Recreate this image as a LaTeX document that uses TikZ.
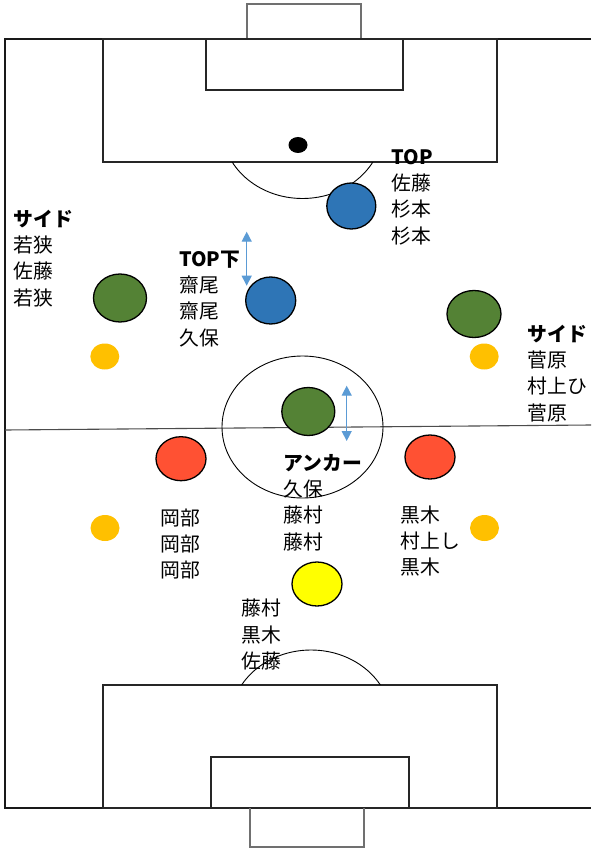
\documentclass[tikz,border=0pt]{standalone}
\usepackage{fontspec}
\setmainfont{Noto Sans CJK JP}
\usetikzlibrary{shapes.geometric,arrows.meta}
\definecolor{pblue}{HTML}{2E75B6}
\definecolor{pgreen}{HTML}{548235}
\definecolor{pred}{HTML}{FF5133}
\definecolor{porange}{HTML}{FFC000}
\definecolor{pyellow}{HTML}{FFFF00}
\definecolor{arrowblue}{HTML}{5B9BD5}
\definecolor{goalgray}{HTML}{707070}
\begin{document}
\begin{tikzpicture}[x=1pt,y=-1pt,
  fieldline/.style={draw=black!90, line width=1.6pt},
  boxline/.style={draw=black!85, line width=1.3pt},
  goalline/.style={draw=goalgray, line width=1.2pt},
  arcline/.style={draw=black, line width=0.9pt},
  midline/.style={draw=black!70, line width=1.1pt},
  player/.style={ellipse, draw=black, line width=1.3pt, inner sep=0pt},
  spare/.style={ellipse, fill=porange, inner sep=0pt, minimum width=29pt, minimum height=26pt},
  namelist/.style={anchor=north west, inner sep=0pt, align=left, font=\fontsize{19.8}{26.3}\selectfont},
  movearrow/.style={draw=arrowblue, line width=1.3pt, {Triangle[length=10pt,width=10pt]}-{Triangle[length=10pt,width=10pt]}}
]
\useasboundingbox (0,0) rectangle (591,850);
\fill[white] (0,0) rectangle (591,850);

% pitch
\draw[fieldline] (591,39) -- (5,39) -- (5,808) -- (591,808);
\draw[goalline] (247,39) -- (247,4) -- (361,4) -- (361,39);
\draw[boxline] (103,39) rectangle (497,162);
\draw[boxline] (206,39) rectangle (403,90);
\fill[black] (298,145) ellipse [x radius=9.5, y radius=8];
\begin{scope}
  \clip (0,162.6) rectangle (591,300);
  \draw[arcline] (302.5,127.5) ellipse [x radius=80.5, y radius=71];
\end{scope}
\draw[boxline] (103,685) rectangle (497,808);
\draw[boxline] (211,757) rectangle (409,808);
\draw[goalline] (250,808) -- (250,847) -- (364,847) -- (364,808);
\begin{scope}
  \clip (0,500) rectangle (591,684.4);
  \draw[arcline] (311,721) ellipse [x radius=80.5, y radius=71];
\end{scope}
\draw[midline] (5,430) -- (591,425);
\draw[arcline] (302.5,427) ellipse [x radius=80.5, y radius=71];

% players
\node[player, fill=pblue, minimum width=49pt, minimum height=46pt] (top) at (351.3,206) {};
\node[player, fill=pblue, minimum width=50pt, minimum height=47pt] (topsub) at (270.7,300.5) {};
\node[player, fill=pgreen, minimum width=53pt, minimum height=48pt] (lside) at (120,298) {};
\node[player, fill=pgreen, minimum width=54pt, minimum height=47pt] (rside) at (474,314) {};
\node[player, fill=pgreen, minimum width=53pt, minimum height=48pt] (anchor) at (308.3,411.5) {};
\node[player, fill=pred, minimum width=50pt, minimum height=44pt] (lcb) at (181,458.7) {};
\node[player, fill=pred, minimum width=50pt, minimum height=44pt] (rcb) at (430,457) {};
\node[player, fill=pyellow, minimum width=50pt, minimum height=44pt] (gk) at (317,584) {};
\node[spare] (lsp1) at (104.8,356.5) {};
\node[spare] (rsp1) at (484.2,356.5) {};
\node[spare] (lsp2) at (105,528) {};
\node[spare] (rsp2) at (484.5,528) {};

% movement arrows
\coordinate (a1s) at (246.7,231.7);
\coordinate (a1e) at (246.7,285.7);
\draw[movearrow] (a1s) -- (a1e);
\coordinate (a2s) at (346.7,385.7);
\coordinate (a2e) at (346.7,441);
\draw[movearrow] (a2s) -- (a2e);

% names
\node[namelist] (tlside) at (13.5,206) {\rule{0pt}{20pt}\textbf{サイド}\\若狭\\佐藤\\若狭};
\node[namelist] (ttop) at (391.7,144) {\rule{0pt}{20pt}\textbf{TOP}\\佐藤\\杉本\\杉本};
\node[namelist] (ttopsub) at (179,246) {\rule{0pt}{20pt}\textbf{TOP下}\\齋尾\\齋尾\\久保};
\node[namelist] (trside) at (527.7,321) {\rule{0pt}{20pt}\textbf{サイド}\\菅原\\村上ひ\\菅原};
\node[namelist] (tanchor) at (283.3,450) {\rule{0pt}{20pt}\textbf{アンカー}\\久保\\藤村\\藤村};
\node[namelist] (tlcb) at (160,505) {\rule{0pt}{20pt}岡部\\岡部\\岡部};
\node[namelist] (trcb) at (400.7,502) {\rule{0pt}{20pt}黒木\\村上し\\黒木};
\node[namelist] (tgk) at (241.7,595.7) {\rule{0pt}{20pt}藤村\\黒木\\佐藤};
\end{tikzpicture}
\end{document}
